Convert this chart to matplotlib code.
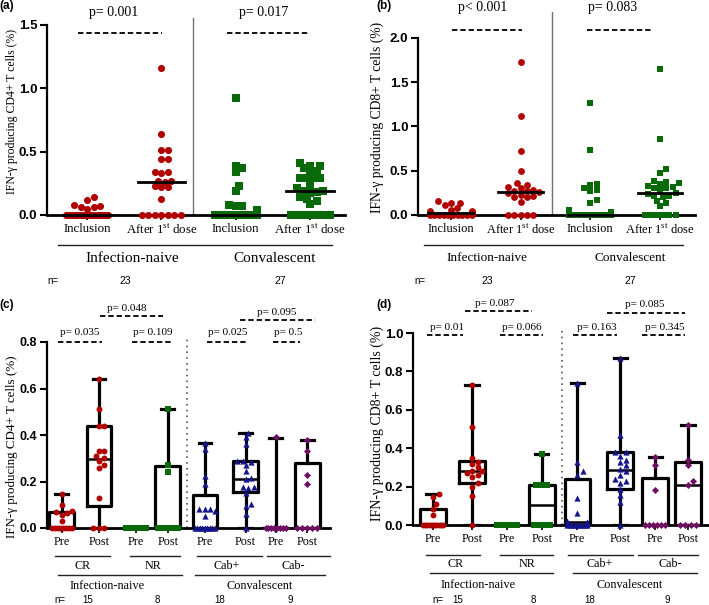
import numpy as np
import matplotlib.pyplot as plt
from matplotlib.lines import Line2D
from matplotlib.ticker import FormatStrFormatter

plt.rcParams['mathtext.fontset'] = 'custom'
plt.rcParams['mathtext.rm'] = 'Liberation Serif'
SERIF = 'Liberation Serif'
SANS = 'Liberation Sans'

RED = '#b00000'
GREEN = '#0a6a0a'
BLUE = '#14148c'
PURPLE = '#6e1062'

# ---------- (a) CD4+, all participants ----------
a_labels = ['Inclusion', 'After 1$^{\\mathrm{st}}$ dose', 'Inclusion', 'After 1$^{\\mathrm{st}}$ dose']
a_naive_incl = [0.14, 0.12, 0.08, 0.07, 0.065, 0.06, 0.05,
                0, 0, 0, 0, 0, 0, 0, 0, 0, 0, 0, 0, 0, 0, 0, 0]
a_naive_post = [1.16, 0.64, 0.51, 0.51, 0.44, 0.44, 0.34, 0.34, 0.33, 0.27, 0.27, 0.26,
                0.23, 0.22, 0.22, 0.13, 0, 0, 0, 0, 0, 0, 0]
a_conv_incl = [0.92, 0.39, 0.37, 0.34, 0.23, 0.19, 0.08, 0.07, 0.07, 0.04,
               0, 0, 0, 0, 0, 0, 0, 0, 0, 0, 0, 0, 0, 0, 0, 0, 0]
a_conv_post = [0.41, 0.39, 0.39, 0.37, 0.35, 0.34, 0.29, 0.29, 0.29, 0.29, 0.24, 0.21,
               0.19, 0.19, 0.18, 0.17, 0.14, 0.13, 0.11, 0.09, 0, 0, 0, 0, 0, 0, 0]
a_p = ['p= 0.001', 'p= 0.017']

# ---------- (b) CD8+, all participants ----------
b_naive_incl = [0.16, 0.14, 0.13, 0.11, 0.08, 0.06, 0.05, 0.04, 0.03, 0.03, 0.02, 0.02, 0.01,
                0, 0, 0, 0, 0, 0, 0, 0, 0, 0]
b_naive_post = [1.73, 1.12, 0.72, 0.50, 0.36, 0.34, 0.32, 0.30, 0.28, 0.27, 0.27, 0.26,
                0.25, 0.23, 0.21, 0.20, 0.20, 0.15, 0, 0, 0, 0, 0]
b_conv_incl = [1.26, 0.73, 0.35, 0.34, 0.30, 0.28, 0.27, 0.17, 0.14, 0.06, 0.03, 0.02,
               0, 0, 0, 0, 0, 0, 0, 0, 0, 0, 0, 0, 0, 0, 0]
b_conv_post = [1.65, 0.86, 0.52, 0.47, 0.38, 0.37, 0.36, 0.35, 0.33, 0.32, 0.31, 0.30, 0.28,
               0.25, 0.24, 0.22, 0.21, 0.20, 0.16, 0.13, 0.10, 0, 0, 0, 0, 0, 0]
b_p = ['p< 0.001', 'p= 0.083']

# ---------- (c) CD4+, subgroups ----------
sub_labels = ['Pre', 'Post', 'Pre', 'Post', 'Pre', 'Post', 'Pre', 'Post']
c_points = [
    [0.145, 0.10, 0.075, 0.07, 0.065, 0.055, 0.03, 0, 0, 0, 0, 0, 0, 0, 0],
    [0.64, 0.51, 0.44, 0.44, 0.33, 0.33, 0.31, 0.30, 0.29, 0.27, 0.26, 0.13, 0, 0, 0],
    [0, 0, 0, 0, 0, 0, 0, 0],
    [0.51, 0.27, 0.24, 0, 0, 0, 0, 0],
    [0.365, 0.34, 0.225, 0.19, 0.08, 0.08, 0.08, 0.075, 0.05, 0, 0, 0, 0, 0, 0, 0, 0, 0],
    [0.41, 0.39, 0.36, 0.29, 0.29, 0.285, 0.27, 0.245, 0.215, 0.21, 0.175, 0.175, 0.17,
     0.15, 0.105, 0.095, 0.06, 0],
    [0.39, 0, 0, 0, 0, 0, 0, 0, 0],
    [0.38, 0.33, 0.23, 0.19, 0, 0, 0, 0, 0],
]
c_lo = [0, 0, 0, 0, 0, 0, 0, 0]
c_q1 = [0, 0.095, 0, 0, 0, 0.155, 0, 0]
c_med = [0, 0.295, 0, 0, 0, 0.21, 0, 0]
c_q3 = [0.07, 0.44, 0, 0.265, 0.14, 0.29, 0, 0.28]
c_hi = [0.145, 0.64, 0, 0.51, 0.365, 0.41, 0.385, 0.38]

# ---------- (d) CD8+, subgroups ----------
d_points = [
    [0.16, 0.145, 0.11, 0.085, 0.05, 0, 0, 0, 0, 0, 0, 0, 0, 0, 0],
    [0.73, 0.51, 0.35, 0.33, 0.32, 0.30, 0.28, 0.28, 0.27, 0.26, 0.25, 0.22, 0.20, 0.15, 0],
    [0, 0, 0, 0, 0, 0, 0, 0],
    [0.37, 0.21, 0.21, 0.21, 0, 0, 0, 0],
    [0.74, 0.33, 0.28, 0.26, 0.14, 0.06, 0.02, 0.015, 0.01, 0, 0, 0, 0, 0, 0, 0, 0, 0],
    [0.87, 0.47, 0.38, 0.38, 0.36, 0.34, 0.33, 0.31, 0.29, 0.28, 0.26, 0.24, 0.23, 0.22,
     0.19, 0.155, 0.12, 0],
    [0.355, 0.31, 0.18, 0, 0, 0, 0, 0, 0],
    [0.52, 0.34, 0.31, 0.23, 0.21, 0, 0, 0, 0],
]
d_lo = [0, 0, 0, 0, 0, 0, 0, 0]
d_q1 = [0, 0.22, 0, 0, 0, 0.19, 0, 0]
d_med = [0, 0.28, 0, 0.105, 0.015, 0.285, 0, 0.21]
d_q3 = [0.085, 0.335, 0, 0.21, 0.24, 0.38, 0.245, 0.33]
d_hi = [0.16, 0.73, 0, 0.37, 0.74, 0.87, 0.355, 0.52]

sub_colors = [RED, RED, GREEN, GREEN, BLUE, BLUE, PURPLE, PURPLE]
sub_markers = ['o', 'o', 's', 's', '^', '^', 'D', 'D']
sub_sizes = [18, 18, 16, 16, 20, 20, 13, 13]

W, H = 709, 605
fig = plt.figure(figsize=(W / 100, H / 100), dpi=100)


def make_ax(left, right, zero_px, unit_px, top_val, xlim):
    top_px = zero_px - top_val * unit_px
    ax = fig.add_axes([left / W, 1 - zero_px / H, (right - left) / W, (zero_px - top_px) / H])
    ax.set_xlim(*xlim)
    ax.set_ylim(0, top_val)
    return ax


def style(ax, yticks, fs):
    for s in ['top', 'right']:
        ax.spines[s].set_visible(False)
    ax.spines['left'].set_linewidth(1.6)
    ax.spines['bottom'].set_linewidth(2.0)
    ax.spines['left'].set_bounds(yticks[0], yticks[-1])
    ax.set_yticks(yticks)
    ax.yaxis.set_major_formatter(FormatStrFormatter('%.1f'))
    ax.tick_params(axis='y', length=5, width=1.5, labelsize=fs, pad=2)
    ax.tick_params(axis='x', length=3.5, width=1.2, pad=2)
    for t in ax.get_yticklabels():
        t.set_fontweight('bold')
        t.set_family(SANS)
    ax.patch.set_visible(False)


def ftext(x, y, s, fs, family=SERIF, **kw):
    fig.text(x / W, 1 - y / H, s, fontsize=fs, family=family, ha='center', va='center', **kw)


def fline(x0, x1, y, lw=1.0):
    fig.add_artist(Line2D([x0 / W, x1 / W], [1 - y / H, 1 - y / H], color='#222222', lw=lw))


def bracket(ax, x0, x1, y, txt, tx, ty, fs):
    ax.plot([x0, x1], [y, y], ls=(0, (3, 1.6)), color='black', lw=1.3, clip_on=False)
    ax.text(tx, ty, txt, ha='center', va='center', fontsize=fs, family=SERIF, clip_on=False)


def swarm(ax, center, vals, diam, maxw):
    vals = np.asarray(vals, dtype=float)
    pts = ax.transData.transform(np.column_stack([np.full(len(vals), center), vals]))
    cx = pts[0, 0]
    ys = pts[:, 1]
    xs = np.full(len(vals), cx)
    placed = []
    fixed = np.zeros(len(vals), bool)
    uniq, counts = np.unique(vals, return_counts=True)
    for u, c in zip(uniq, counts):
        if c > 2:
            idx = np.where(vals == u)[0]
            step = min(diam, maxw / (c - 1))
            xs[idx] = cx + (np.arange(c) - (c - 1) / 2) * step
            fixed[idx] = True
            placed += list(zip(xs[idx], ys[idx]))
    steps = [0.0]
    for j in range(1, 30):
        steps += [j * diam * 0.5, -j * diam * 0.5]
    for i in np.argsort(vals):
        if fixed[i]:
            continue
        for o in steps:
            if all((cx + o - px) ** 2 + (ys[i] - py) ** 2 >= (0.9 * diam) ** 2 for px, py in placed):
                break
        xs[i] = cx + np.clip(o, -maxw / 2, maxw / 2)
        placed.append((xs[i], ys[i]))
    return ax.transData.inverted().transform(np.column_stack([xs, ys]))[:, 0]


def scatter_panel(ax, groups, colors, markers, size, diam, maxw, medw):
    for i, vals in enumerate(groups):
        xs = swarm(ax, i, vals, diam, maxw)
        ax.scatter(xs, vals, s=size, marker=markers[i], c=colors[i], lw=0, zorder=3, clip_on=False)
        med = np.median(vals)
        ax.plot([i - medw, i + medw], [med, med], color='black', lw=2, zorder=4, clip_on=False)


# ---------- panel (a) ----------
ax = make_ax(47, 345, 215, 126.7, 1.555, (-0.54, 3.47))
style(ax, [0, 0.5, 1.0, 1.5], 9.5)
scatter_panel(ax, [a_naive_incl, a_naive_post, a_conv_incl, a_conv_post],
              [RED, RED, GREEN, GREEN], ['o', 'o', 's', 's'], 26, 6.5, 42, 0.32)
ax.axvline(1.42, color='0.45', lw=1)
ax.set_xticks(range(4))
ax.set_xticklabels(a_labels, family=SERIF, fontsize=9.3)
bracket(ax, -0.12, 1.01, 1.436, a_p[0], 0.35, 1.60, 10)
bracket(ax, 1.88, 3.0, 1.436, a_p[1], 2.37, 1.60, 10)
fline(58, 332, 245)
ftext(132, 258, 'Infection-naive', 11)
ftext(275, 258, 'Convalescent', 11)
ftext(53, 281, 'n=', 7, SANS)
ftext(125, 281, '23', 7.5, SANS)
ftext(280, 281, '27', 7.5, SANS)
ftext(7, 6, '(a)', 8.5, SANS, weight='bold')
ftext(12, 111, 'IFN-γ producing CD4+ T cells (%)', 8.5, rotation=90)

# ---------- panel (b) ----------
ax = make_ax(418, 695, 215, 88.5, 2.29, (-0.47, 3.5))
style(ax, [0, 0.5, 1.0, 1.5, 2.0], 9.5)
scatter_panel(ax, [b_naive_incl, b_naive_post, b_conv_incl, b_conv_post],
              [RED, RED, GREEN, GREEN], ['o', 'o', 's', 's'], 24, 6.2, 42, 0.32)
ax.axvline(1.45, color='0.45', lw=1)
ax.set_xticks(range(4))
ax.set_xticklabels(a_labels, family=SERIF, fontsize=9)
bracket(ax, 0.02, 1.02, 2.09, b_p[0], 0.46, 2.34, 10)
bracket(ax, 1.95, 2.88, 2.09, b_p[1], 2.32, 2.34, 10)
fline(424, 683, 245)
ftext(487, 258, 'Infection-naive', 9.5)
ftext(630, 258, 'Convalescent', 9.5)
ftext(420, 281, 'n=', 7, SANS)
ftext(487, 281, '23', 7.5, SANS)
ftext(630, 281, '27', 7.5, SANS)
ftext(384, 6, '(b)', 8.5, SANS, weight='bold')
ftext(377, 117, 'IFN-γ producing CD8+ T cells (%)', 9.8, rotation=90)


def box_panel(ax, pos, points, lo, q1, med, q3, hi):
    stats = [dict(whislo=lo[i], q1=q1[i], med=med[i], q3=q3[i], whishi=hi[i], fliers=[])
             for i in range(len(pos))]
    lw = 2.3
    ax.bxp(stats, positions=pos, widths=0.7, capwidths=0.36, showfliers=False,
           boxprops=dict(color='black', lw=lw), whiskerprops=dict(color='black', lw=lw),
           capprops=dict(color='black', lw=lw), medianprops=dict(color='black', lw=1.8),
           manage_ticks=False)
    for i, vals in enumerate(points):
        xs = swarm(ax, pos[i], vals, 5.5, 20)
        ax.scatter(xs, vals, s=sub_sizes[i], marker=sub_markers[i], c=sub_colors[i],
                   lw=0, zorder=3, clip_on=False)
    ax.set_xticks(pos)
    ax.set_xticklabels(sub_labels, family=SERIF, fontsize=8.7)


# ---------- panel (c) ----------
pos_c = [0, 1.05, 2.1, 3.0, 4.05, 5.2, 6.05, 6.95]
ax = make_ax(47, 330, 528, 232.5, 0.82, (-0.42, 7.59))
style(ax, [0, 0.2, 0.4, 0.6, 0.8], 9)
box_panel(ax, pos_c, c_points, c_lo, c_q1, c_med, c_q3, c_hi)
ax.axvline(3.54, color='0.35', lw=1.2, ls=(0, (1, 2.5)))
bracket(ax, -0.11, 1.13, 0.80, 'p= 0.035', 0.51, 0.84, 8)
bracket(ax, 1.98, 3.14, 0.80, 'p= 0.109', 2.58, 0.84, 8)
bracket(ax, 4.1, 5.27, 0.80, 'p= 0.025', 4.7, 0.84, 8)
bracket(ax, 5.98, 6.74, 0.80, 'p= 0.5', 6.4, 0.84, 8)
bracket(ax, 1.08, 2.86, 0.912, 'p= 0.048', 1.84, 0.946, 8)
bracket(ax, 5.04, 7.17, 0.895, 'p= 0.095', 6.09, 0.929, 8)
for x0, x1, xt, t in [(55, 110, 83, 'CR'), (130, 180, 153, 'NR'),
                      (197, 262, 227, 'Cab+'), (267, 330, 293, 'Cab-')]:
    fline(x0, x1, 556)
    ftext(xt, 566, t, 8.7)
fline(58, 182, 575)
fline(195, 325, 575)
ftext(107, 586, 'Infection-naive', 8.8)
ftext(260, 586, 'Convalescent', 8.8)
for x, t in [(60, 'n='), (88, '15'), (157, '8'), (220, '18'), (290, '9')]:
    ftext(x, 600, t, 7, SANS)
ftext(7, 305, '(c)', 8.5, SANS, weight='bold')
ftext(12, 447, 'IFN-γ producing CD4+ T cells (%)', 9.4, rotation=90)

# ---------- panel (d) ----------
pos_d = [0, 1.07, 2.03, 2.99, 3.96, 5.14, 6.1, 7.0]
ax = make_ax(413, 708, 525, 192, 1.03, (-0.55, 7.55))
style(ax, [0, 0.2, 0.4, 0.6, 0.8, 1.0], 9.5)
box_panel(ax, pos_d, d_points, d_lo, d_q1, d_med, d_q3, d_hi)
ax.axvline(3.54, color='0.35', lw=1.2, ls=(0, (1, 2.5)))
bracket(ax, -0.16, 0.82, 0.99, 'p= 0.01', 0.38, 1.03, 8)
bracket(ax, 1.84, 3.02, 0.99, 'p= 0.066', 2.45, 1.03, 8)
bracket(ax, 3.85, 5.05, 0.99, 'p= 0.163', 4.5, 1.03, 8)
bracket(ax, 5.74, 6.92, 0.99, 'p= 0.345', 6.37, 1.03, 8)
bracket(ax, 0.88, 2.72, 1.115, 'p= 0.087', 1.7, 1.156, 8)
bracket(ax, 4.78, 6.92, 1.104, 'p= 0.085', 5.82, 1.146, 8)
for x0, x1, xt, t in [(426, 480, 456, 'CR'), (500, 553, 527, 'NR'),
                      (568, 633, 600, 'Cab+'), (638, 698, 670, 'Cab-')]:
    fline(x0, x1, 555)
    ftext(xt, 564, t, 8.7)
fline(430, 553, 573)
fline(573, 697, 573)
ftext(478, 585, 'Infection-naive', 8.8)
ftext(630, 585, 'Convalescent', 8.8)
for x, t in [(438, 'n='), (458, '15'), (533, '8'), (590, '18'), (667, '9')]:
    ftext(x, 600, t, 7, SANS)
ftext(384, 305, '(d)', 8.5, SANS, weight='bold')
ftext(377, 423, 'IFN-γ producing CD8+ T cells (%)', 10, rotation=90)

fig.savefig('out.png', dpi=100)
